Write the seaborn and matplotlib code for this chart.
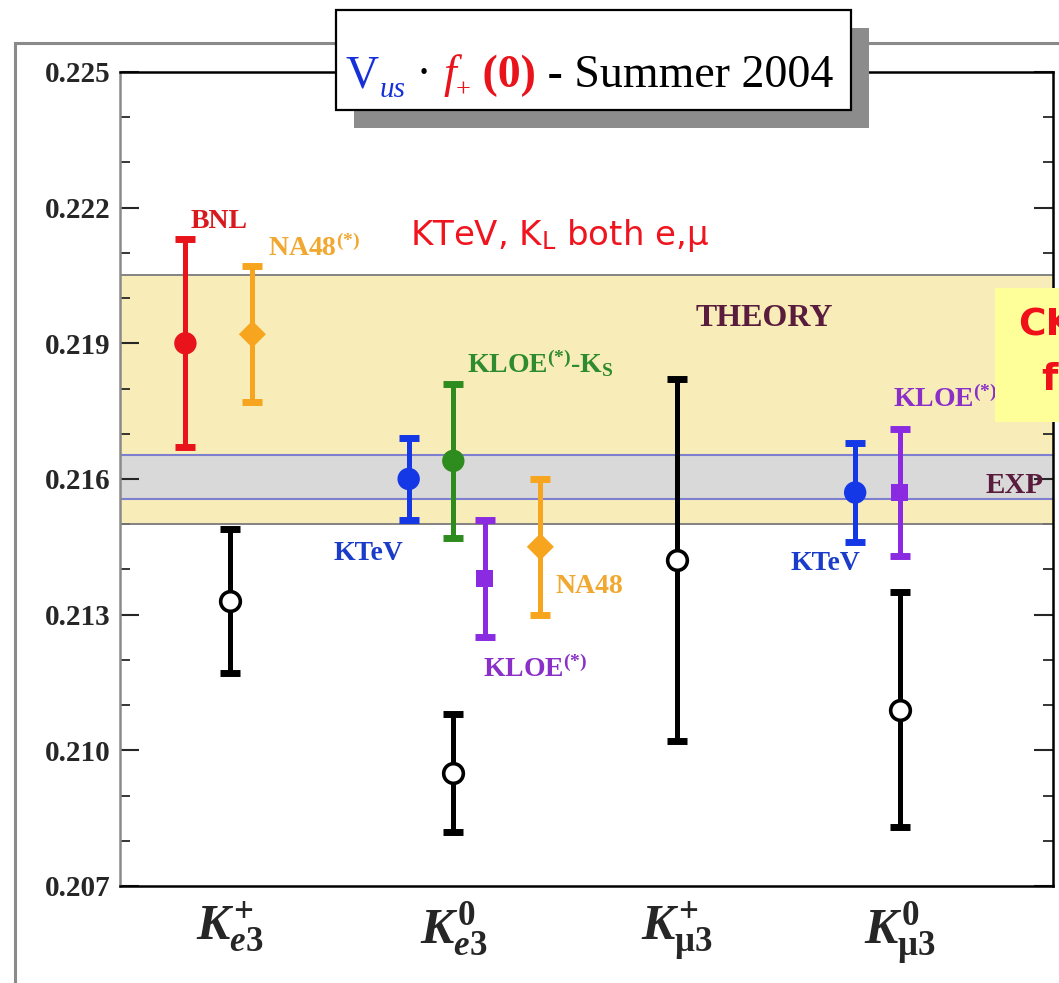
import matplotlib
matplotlib.use('Agg')
import matplotlib.pyplot as plt
import matplotlib.transforms as mtransforms
from matplotlib.patches import Rectangle
from matplotlib.ticker import MultipleLocator, FormatStrFormatter
import seaborn as sns
import pandas as pd

# decay modes on the x axis
modes = [r'$K^{+}_{e3}$', r'$K^{0}_{e3}$', r'$K^{+}_{\mathrm{\mu}3}$', r'$K^{0}_{\mathrm{\mu}3}$']

# measurements of Vus*f+(0)
names = ['BNL', 'NA48(*)', 'avg', 'KTeV', 'KLOE-KS', 'KLOE', 'NA48', 'avg', 'avg', 'KTeV', 'KLOE', 'avg']
mode_idx = [0, 0, 0, 1, 1, 1, 1, 1, 2, 3, 3, 3]
values = [0.2190, 0.2192, 0.2133, 0.2160, 0.2164, 0.2138, 0.2145, 0.2095, 0.2142, 0.2157, 0.2157, 0.2109]
errors = [0.0023, 0.0015, 0.0016, 0.0009, 0.0017, 0.0013, 0.0015, 0.0013, 0.0040, 0.0011, 0.0014, 0.0026]

# bands
theory_band = [0.2150, 0.2205]
exp_band = [0.21555, 0.21653]

# horizontal shift of each point inside its group
shift = [-0.2, 0.1, 0.0, -0.2, 0.0, 0.14, 0.39, 0.0, 0.0, -0.2, 0.0, 0.0]

colors = {'BNL': '#e8131b', 'NA48(*)': '#f7a51e', 'NA48': '#f7a51e', 'avg': 'black',
          'KTeV': '#1538e6', 'KLOE-KS': '#2e8b1e', 'KLOE': '#8a2be2'}
markers = {'BNL': 'o', 'NA48(*)': 'D', 'NA48': 'D', 'avg': 'o',
           'KTeV': 'o', 'KLOE-KS': 'o', 'KLOE': 's'}
sizes = {'BNL': 260, 'NA48(*)': 190, 'NA48': 190, 'avg': 200,
         'KTeV': 260, 'KLOE-KS': 260, 'KLOE': 150}

sns.set_style('ticks')
plt.rcParams['font.family'] = ['Liberation Serif', 'DejaVu Sans']
plt.rcParams['font.weight'] = 'bold'
plt.rcParams['mathtext.fontset'] = 'custom'
plt.rcParams['mathtext.rm'] = 'Liberation Serif:bold'
plt.rcParams['mathtext.bf'] = 'Liberation Serif:bold'
plt.rcParams['mathtext.it'] = 'Liberation Serif:italic:bold'
plt.rcParams['mathtext.sf'] = 'DejaVu Sans:weight=normal'

df = pd.DataFrame({'name': names, 'x': [m + s for m, s in zip(mode_idx, shift)],
                   'val': values, 'err': errors})

fig = plt.figure(figsize=(10.59, 9.83), dpi=100)
fig.patch.set_facecolor('white')
ax = fig.add_axes([0.1133, 0.0987, 0.8810, 0.8281])

ax.axhspan(theory_band[0], theory_band[1], color='#f8edb8', zorder=0, lw=0)
for yv in theory_band:
    ax.axhline(yv, color='#7a7a7a', lw=1.3, zorder=1)
ax.axhspan(exp_band[0], exp_band[1], color='#d9d9d9', zorder=0.5, lw=0)
for yv in exp_band:
    ax.axhline(yv, color='#7f7fd0', lw=1.5, zorder=1)

for _, r in df.iterrows():
    ax.errorbar(r['x'], r['val'], yerr=r['err'], fmt='none', ecolor=colors[r['name']],
                elinewidth=3.6, capsize=7, capthick=5, zorder=3)

filled = df[df['name'] != 'avg']
sns.scatterplot(data=filled, x='x', y='val', hue='name', style='name', size='name',
                palette=colors, markers=markers, sizes=sizes, linewidth=0,
                legend=False, ax=ax, zorder=4)
opened = df[df['name'] == 'avg']
sns.scatterplot(data=opened, x='x', y='val', color='white', edgecolor='black',
                s=sizes['avg'], linewidth=2.6, legend=False, ax=ax, zorder=4)

ax.set_xlim(-0.493, 3.686)
ax.set_ylim(0.207, 0.225)
ax.set_xticks(range(len(modes)))
ax.set_xticklabels(modes)
ax.set_xlabel('')
ax.set_ylabel('')
ax.yaxis.set_major_locator(MultipleLocator(0.003))
ax.yaxis.set_minor_locator(MultipleLocator(0.001))
ax.yaxis.set_major_formatter(FormatStrFormatter('%.3f'))
ax.tick_params(axis='y', which='major', direction='in', length=14, width=1.5,
               left=True, right=True, labelsize=21, pad=7)
ax.tick_params(axis='y', which='minor', direction='in', length=7, width=1.3,
               left=True, right=True)
ax.tick_params(axis='x', length=0, pad=10, labelsize=36)
ax.spines['left'].set_color('#8a8a8a')
for s in ['top', 'bottom', 'right']:
    ax.spines[s].set_color('black')
for s in ax.spines.values():
    s.set_linewidth(1.8)

# labels of the measurements
lab = dict(fontsize=20, va='baseline', ha='left', zorder=5)
ax.text(-0.179, 0.22155, 'BNL', color='#d81a1f', **lab)
ax.text(0.170, 0.22093, r'NA48$^{(*)}$', color='#f0a830', **lab)
ax.text(1.063, 0.21837, r'KLOE$^{(*)}$-K$_{\mathrm{S}}$', color='#2e8b2e', **lab)
ax.text(0.462, 0.21421, 'KTeV', color='#1a3cc8', **lab)
ax.text(1.457, 0.21348, 'NA48', color='#f0a830', **lab)
ax.text(1.135, 0.21162, r'KLOE$^{(*)}$', color='#8a30c8', **lab)
ax.text(2.511, 0.21399, 'KTeV', color='#1a3cc8', **lab)
ax.text(2.969, 0.21759, r'KLOE$^{(*)}$', color='#8a30c8', **lab)
ax.text(2.085, 0.21938, 'THEORY', color='#5a1c3c', fontsize=23, va='baseline', ha='left', zorder=5)
ax.text(3.386, 0.21569, 'EXP', color='#5a1c3c', fontsize=21, va='baseline', ha='left', zorder=5)
ax.text(0.807, 0.22117, r'KTeV, K$_{\mathsf{L}}$ both e,μ', color='#f0141e',
        fontsize=24.5, fontfamily='DejaVu Sans', fontweight='normal', va='baseline', ha='left')

# outer frame
fig.add_artist(Rectangle((15 / 1059, -0.05), 1.1, (983 - 43) / 983 + 0.05, transform=fig.transFigure,
                         fill=False, edgecolor='#8a8a8a', lw=2.2, zorder=0.5))

# yellow note on the right
fig.add_artist(Rectangle((995 / 1059, 1 - 422 / 983), 0.1, 134 / 983, transform=fig.transFigure,
                         facecolor='#ffff99', edgecolor='none', zorder=5))
fig.text(1065 / 1059, 1 - 335 / 983, 'CKM', color='#f0101a', fontsize=27, fontfamily='DejaVu Sans',
         fontweight='bold', ha='center', va='baseline', zorder=6)
fig.text(1065 / 1059, 1 - 390 / 983, 'fit', color='#f0101a', fontsize=27, fontfamily='DejaVu Sans',
         fontweight='bold', ha='center', va='baseline', zorder=6)

# title box with shadow
fig.add_artist(Rectangle((354 / 1059, 1 - 128 / 983), 515 / 1059, 100 / 983, transform=fig.transFigure,
                         facecolor='#8c8c8c', edgecolor='none', zorder=5))
fig.add_artist(Rectangle((336 / 1059, 1 - 110 / 983), 515 / 1059, 100 / 983, transform=fig.transFigure,
                         facecolor='white', edgecolor='black', lw=1.6, zorder=5))

pieces = [
    ('V', dict(color='#1530d8', fontsize=33, fontweight='normal')),
    ('us', dict(color='#1530d8', fontsize=21, fontweight='normal', fontstyle='italic', dy=-10)),
    (' · ', dict(color='black', fontsize=33, fontweight='normal')),
    ('f', dict(color='#e8131b', fontsize=33, fontweight='normal', fontstyle='italic')),
    ('+', dict(color='#e8131b', fontsize=19, fontweight='normal', dy=-10)),
    (' (0)', dict(color='#e8131b', fontsize=33, fontweight='bold')),
    (' - Summer 2004', dict(color='black', fontsize=33, fontweight='normal')),
]
renderer = fig.canvas.get_renderer()
px = 346
base = 983 - 87
for txt, kw in pieces:
    kw = dict(kw)
    dy = kw.pop('dy', 0)
    t = fig.text(px, base + dy, txt, transform=mtransforms.IdentityTransform(),
                 va='baseline', ha='left', zorder=6, fontfamily='Liberation Serif', **kw)
    px = t.get_window_extent(renderer).x1

fig.savefig('out.png', dpi=100)
